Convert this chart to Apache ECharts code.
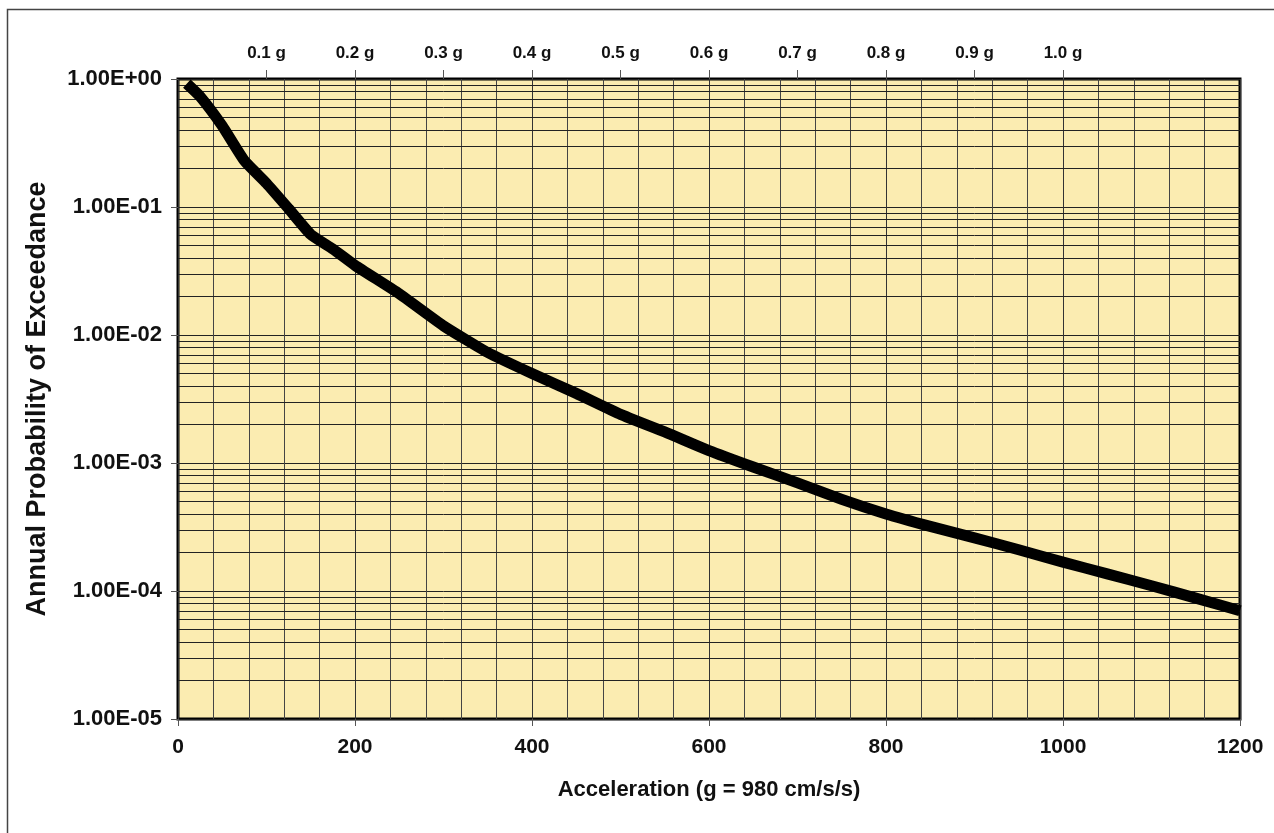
<!DOCTYPE html>
<html>
<head>
<meta charset="utf-8">
<script src="https://cdn.jsdelivr.net/npm/echarts@6/dist/echarts.min.js"></script>
<style>
html,body{margin:0;padding:0;background:#fff;}
#chart{width:1274px;height:833px;}
</style>
</head>
<body>
<div id="chart"></div>
<script>
// ---- data ----
var accel = [10, 25, 50, 75, 100, 125, 150, 175, 200, 250, 300, 350, 400, 450, 500, 550, 600, 650, 700, 750, 800, 850, 900, 950, 1000, 1050, 1100, 1150, 1200];
var probability = [0.92, 0.73, 0.43, 0.23, 0.153, 0.097, 0.061, 0.047, 0.035, 0.021, 0.0118, 0.0073, 0.0050, 0.0035, 0.0024, 0.00175, 0.00125, 0.00093, 0.00070, 0.00052, 0.00040, 0.00032, 0.00026, 0.00021, 0.000168, 0.000136, 0.000110, 0.000088, 0.000070];
var yTickLabels = ['1.00E+00', '1.00E-01', '1.00E-02', '1.00E-03', '1.00E-04', '1.00E-05'];
var topTickValues = [0.1, 0.2, 0.3, 0.4, 0.5, 0.6, 0.7, 0.8, 0.9, 1.0];
var topTickLabels = ['0.1 g', '0.2 g', '0.3 g', '0.4 g', '0.5 g', '0.6 g', '0.7 g', '0.8 g', '0.9 g', '1.0 g'];
var xTitle = 'Acceleration (g = 980 cm/s/s)';
var yTitle = 'Annual Probability of Exceedance';

var X_MIN = 0, X_MAX = 1200;

// minor log gridlines (2..9 within each decade), drawn through the axes as mark lines
var minorLines = [];
for (var d = -5; d < 0; d++) {
  for (var m = 2; m <= 9; m++) {
    var v = m * Math.pow(10, d);
    minorLines.push([{ coord: [X_MIN, v] }, { coord: [X_MAX, v] }]);
  }
}

var seriesData = accel.map(function (x, i) { return [x, probability[i]]; });
var FONT = '"Liberation Sans", Arial, sans-serif';

var chart = echarts.init(document.getElementById('chart'), null, { renderer: 'canvas' });
chart.setOption({
  backgroundColor: '#ffffff',
  animation: false,
  graphic: [{
    type: 'rect',
    shape: { x: 7.5, y: 9.5, width: 1300, height: 900 },
    style: { fill: 'none', stroke: '#444', lineWidth: 1.5 },
    silent: true
  }],
  grid: {
    left: 178, right: 34, top: 79, bottom: 114,
    show: true,
    backgroundColor: '#FBECB1',
    borderColor: '#000',
    borderWidth: 3
  },
  xAxis: [{
    type: 'value',
    min: X_MIN, max: X_MAX, interval: 200,
    position: 'bottom',
    name: xTitle,
    nameLocation: 'middle',
    nameGap: 60,
    nameTextStyle: { fontFamily: FONT, fontWeight: 'bold', fontSize: 22, color: '#111' },
    axisLine: { show: false },
    axisTick: { show: true, length: 7, lineStyle: { color: '#555', width: 1 } },
    axisLabel: {
      fontFamily: FONT, fontWeight: 'bold', fontSize: 21, color: '#111', margin: 18,
      formatter: function (v) { return String(v); }
    },
    splitLine: { show: true, lineStyle: { color: '#333', width: 1 } },
    minorTick: { show: false, splitNumber: 5 },
    minorSplitLine: { show: true, lineStyle: { color: '#444', width: 1 } }
  }, {
    type: 'value',
    min: 0, max: 1.2,
    position: 'top',
    axisLine: { show: false },
    splitLine: { show: false },
    axisTick: { show: true, length: 9, customValues: topTickValues, lineStyle: { color: '#555', width: 1 } },
    axisLabel: {
      show: true, customValues: topTickValues, margin: 17,
      fontFamily: FONT, fontWeight: 'bold', fontSize: 17, color: '#111',
      formatter: function (v) { return topTickLabels[Math.round(v * 10) - 1] || ''; }
    }
  }],
  yAxis: {
    type: 'log',
    logBase: 10,
    min: 1e-5, max: 1,
    splitNumber: 5,
    name: yTitle,
    nameLocation: 'middle',
    nameGap: 127,
    nameRotate: 90,
    nameTextStyle: { fontFamily: FONT, fontWeight: 'bold', fontSize: 27, color: '#111' },
    axisLine: { show: false },
    axisTick: { show: true, length: 7, lineStyle: { color: '#555', width: 1 } },
    axisLabel: {
      fontFamily: FONT, fontWeight: 'bold', fontSize: 22, color: '#111', margin: 16,
      formatter: function (v) {
        var idx = Math.round(-Math.log10(v));
        return yTickLabels[idx] || '';
      }
    },
    splitLine: { show: true, lineStyle: { color: '#222', width: 1 } }
  },
  series: [{
    type: 'line',
    data: [],
    z: 1,
    silent: true,
    markLine: {
      silent: true,
      symbol: ['none', 'none'],
      label: { show: false },
      lineStyle: { color: '#222', width: 1, type: 'solid' },
      emphasis: { disabled: true },
      data: minorLines
    }
  }, {
    type: 'line',
    data: seriesData,
    z: 5,
    symbol: 'none',
    smooth: 0.15,
    lineStyle: { color: '#000', width: 11, join: 'round', cap: 'butt' }
  }]
});
</script>
</body>
</html>
